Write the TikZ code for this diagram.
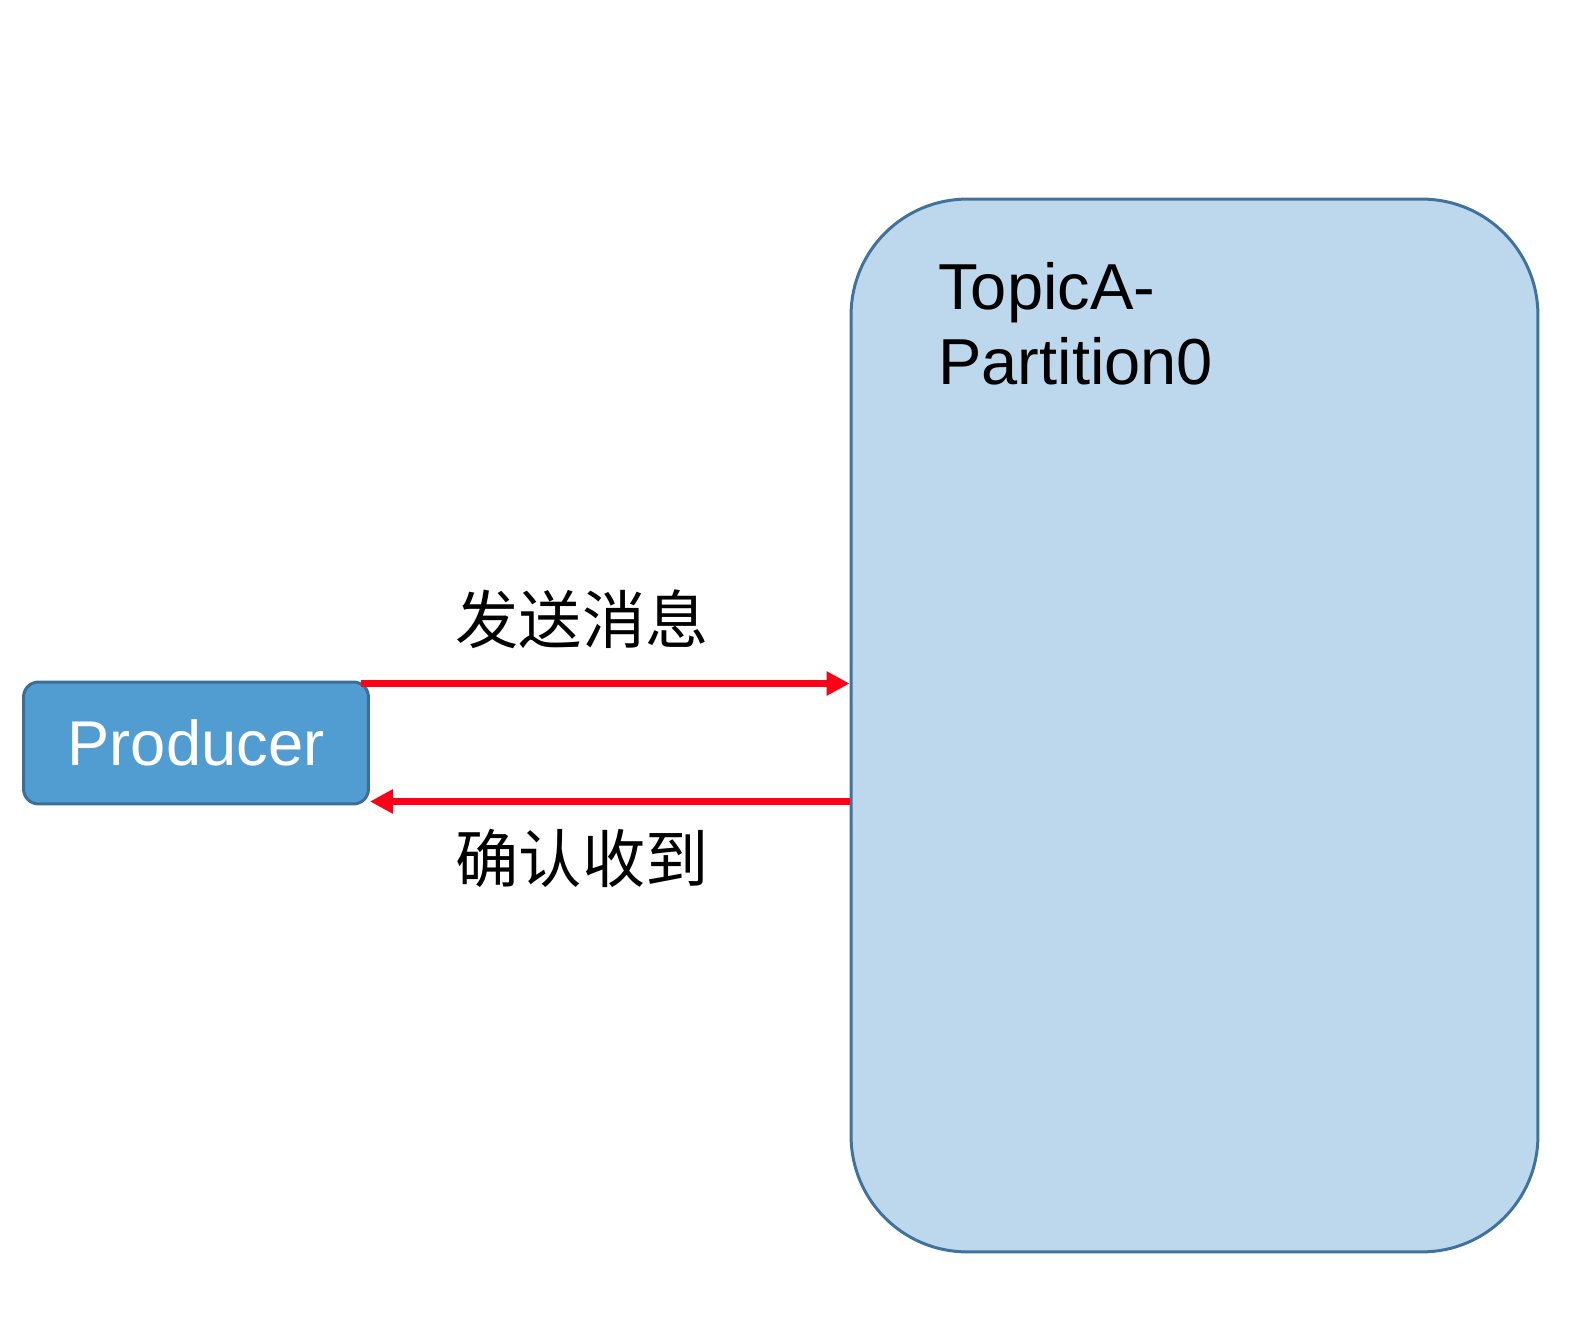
\documentclass[tikz,border=0pt]{standalone}
\usepackage{fontspec}
\setmainfont{Liberation Sans}
\newfontfamily\cjk{Noto Sans CJK SC}
\usepackage{tikz}
\usetikzlibrary{arrows.meta, positioning, calc}
\definecolor{ProdBlue}{HTML}{519DD2}
\definecolor{ProdEdge}{HTML}{3C6F98}
\definecolor{PartBlue}{HTML}{BDD8EC}
\definecolor{PartEdge}{HTML}{41729D}
\definecolor{MsgRed}{HTML}{FF0019}

\begin{document}
\begin{tikzpicture}[
        x=0.02cm, y=-0.02cm,
        prodbox/.style={draw=ProdEdge, fill=ProdBlue, line width=1.7pt, rounded corners=0.3cm,
          minimum width=6.9cm, minimum height=2.44cm, inner sep=0pt,
          font=\fontsize{36}{43}\selectfont, text=white},
        partbox/.style={draw=PartEdge, fill=PartBlue, line width=1.7pt, rounded corners=2.32cm,
          minimum width=13.74cm, minimum height=21.06cm, inner sep=0pt},
        ttl/.style={anchor=base west, inner sep=0pt, font=\fontsize{37}{43}\selectfont},
        msg/.style={MsgRed, line width=4pt, -{Triangle[length=4.6mm, width=4.6mm]}},
        cn/.style={inner sep=0pt, font=\cjk\fontsize{36}{43}\selectfont},
      ]
        \useasboundingbox (0,0) rectangle (1583,1327);
        % --- boxes ---
        \node[prodbox] (prod) at (196,743) {Producer};
        \node[partbox] (topic) at (1194.5,725.5) {};
        \node[ttl] (t1) at (938,310) {TopicA-};
        \node[ttl] (t2) at (938,385) {Partition0};
        % --- send / ack ---
        \draw[msg] ($(prod.north east)+(-9,3)$) -- ($(prod.north east -| topic.west)+(0,3)$);
        \draw[msg] ($(prod.south east -| topic.west)+(0,-4)$) -- ($(prod.south east)+(0,-4)$);
        \node[cn] (send) at (582,619) {发送消息};
        \node[cn] (ack) at (582,858) {确认收到};
      \end{tikzpicture}
\end{document}
